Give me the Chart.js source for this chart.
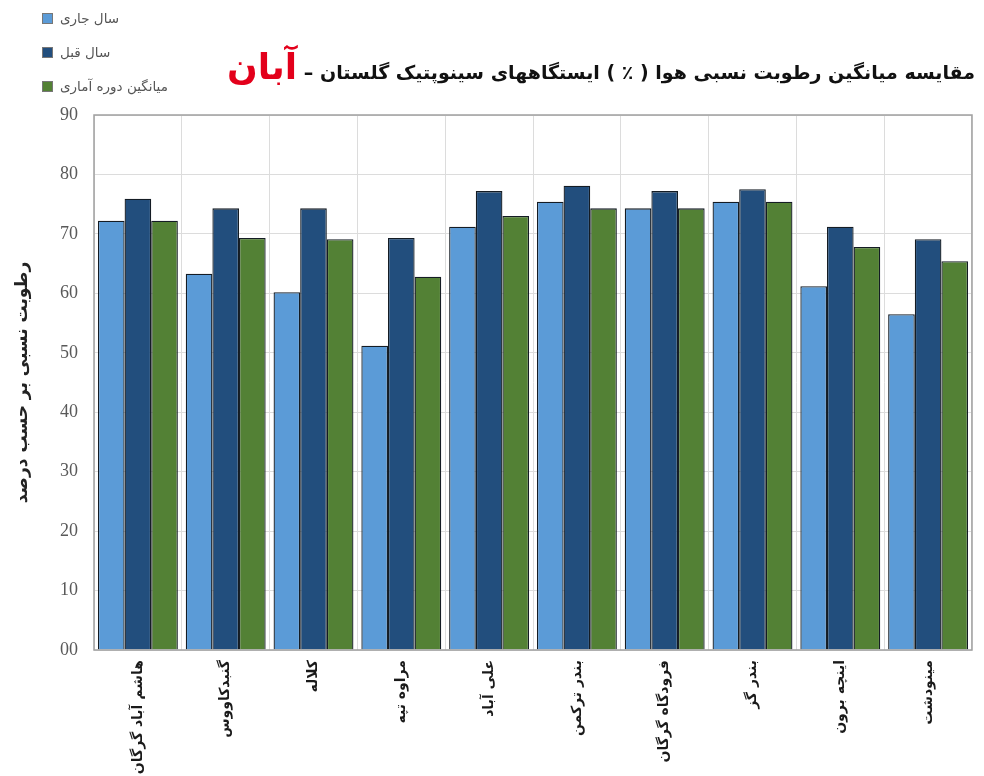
<!DOCTYPE html>
<html lang="fa">
<head>
<meta charset="utf-8">
<title>رطوبت نسبی - آبان</title>
<script src="https://cdn.jsdelivr.net/npm/chart.js@4.4.1/dist/chart.umd.min.js"></script>
<style>
  html, body { margin: 0; padding: 0; background: #fff; }
  #wrap { position: relative; width: 984px; height: 776px; overflow: hidden; }
  #chart { position: absolute; left: 0; top: 0; }
  #title {
    position: absolute; right: 9px; top: 46px; direction: rtl; white-space: nowrap;
    font-family: "DejaVu Sans", sans-serif; font-weight: bold; font-size: 19px; color: #111;
  }
  #title .month { color: #e3001b; font-size: 36px; }
  #legend { position: absolute; left: 42px; top: 1px; font-family: "DejaVu Sans", sans-serif; font-size: 13.5px; color: #555; }
  #legend .item { display: flex; align-items: center; height: 34px; direction: ltr; }
  #legend .box { width: 9px; height: 9px; border: 1px solid #777; margin-right: 7px; }
</style>
</head>
<body>
<div id="wrap">
  <canvas id="chart" width="984" height="776"></canvas>
  <div id="title">مقایسه میانگین رطوبت نسبی هوا ( ٪ ) ایستگاههای سینوپتیک گلستان – <span class="month">آبان</span></div>
  <div id="legend"></div>
</div>
<script>
// داده ها
const stations = ['هاشم آباد گرگان', 'گنبدکاووس', 'کلاله', 'مراوه تپه', 'علی آباد', 'بندر ترکمن', 'فرودگاه گرگان', 'بندر گز', 'اینچه برون', 'مینودشت'];
const seriesNames = ['سال جاری', 'سال قبل', 'میانگین دوره آماری'];
const currentYear = [72.2, 63.3, 60.2, 51.2, 71.2, 75.4, 74.3, 75.4, 61.2, 56.5];
const lastYear = [75.9, 74.3, 74.3, 69.3, 77.2, 78.1, 77.2, 77.5, 71.2, 69.1];
const longTermMean = [72.2, 69.3, 69.1, 62.8, 73.0, 74.3, 74.3, 75.4, 67.8, 65.4];
const yMin = 0, yMax = 90, yStep = 10;
const yAxisTitle = 'رطوبت نسبی بر حسب درصد';

const colors = ['#5b9bd7', '#224e7d', '#538135'];
const seriesValues = [currentYear, lastYear, longTermMean];

// legend
const legendEl = document.getElementById('legend');
seriesNames.forEach((name, i) => {
    const item = document.createElement('div');
    item.className = 'item';
    item.innerHTML = '<span class="box" style="background:' + colors[i] + '"></span><span dir="rtl">' + name + '</span>';
    legendEl.appendChild(item);
});

// chart area frame
const framePlugin = {
    id: 'frame',
    afterDraw(chart) {
        const a = chart.chartArea, ctx = chart.ctx;
        ctx.save();
        ctx.strokeStyle = '#a0a0a0';
        ctx.lineWidth = 1.5;
        ctx.strokeRect(a.left, a.top, a.right - a.left, a.bottom - a.top);
        ctx.restore();
    }
};

const ctx = document.getElementById('chart').getContext('2d');
const chart = new Chart(ctx, {
    type: 'bar',
    data: {
        labels: stations,
        datasets: seriesNames.map((name, i) => ({
            label: name,
            data: seriesValues[i],
            backgroundColor: colors[i],
            borderColor: '#141c24',
            borderWidth: 1.3,
            categoryPercentage: 0.91,
            barPercentage: 1.0
        }))
    },
    options: {
        responsive: false,
        animation: false,
        layout: { padding: { top: 115, right: 12, left: 0, bottom: 0 } },
        plugins: {
            legend: { display: false },
            title: { display: false },
            tooltip: { enabled: false }
        },
        scales: {
            x: {
                grid: { color: '#dcdcdc', offset: true, drawTicks: false },
                border: { display: false },
                ticks: {
                    minRotation: 90,
                    maxRotation: 90,
                    padding: 10,
                    color: '#1a1a1a',
                    font: { family: 'DejaVu Sans', weight: 'bold', size: 14 }
                },
                afterFit(scale) { scale.height = 126; }
            },
            y: {
                min: yMin,
                max: yMax,
                grid: { color: '#dcdcdc', drawTicks: false },
                border: { display: false },
                ticks: {
                    stepSize: yStep,
                    padding: 16,
                    color: '#595959',
                    font: { family: 'Liberation Serif', size: 18 },
                    callback: (v) => v === 0 ? '00' : v
                },
                title: {
                    display: true,
                    text: yAxisTitle,
                    color: '#222',
                    padding: { top: 12, bottom: 0 },
                    font: { family: 'DejaVu Sans', weight: 'bold', size: 17 }
                },
                afterFit(scale) { scale.width = 94; }
            }
        }
    },
    plugins: [framePlugin]
});
</script>
</body>
</html>
